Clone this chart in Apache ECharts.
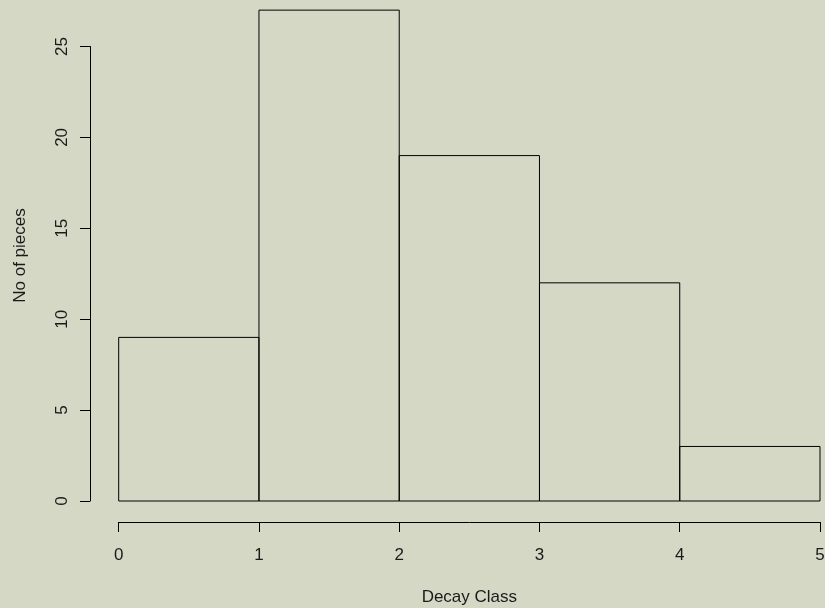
<!DOCTYPE html>
<html>
<head>
<meta charset="utf-8">
<script src="https://cdn.jsdelivr.net/npm/echarts@6/dist/echarts.min.js"></script>
<style>
html,body{margin:0;padding:0;background:#d6d8c6;}
#c{width:825px;height:608px;}
</style>
</head>
<body>
<div id="c"></div>
<script>
var breaks = [0, 1, 2, 3, 4, 5];
var counts = [9, 27, 19, 12, 3];
var yTicks = [0, 5, 10, 15, 20, 25];
var xTitle = 'Decay Class';
var yTitle = 'No of pieces';

var binData = counts.map(function (c, i) { return [breaks[i], breaks[i + 1], c]; });
var font = 'Liberation Sans, Arial, sans-serif';
var txt = '#1a1a1a';

var chart = echarts.init(document.getElementById('c'));
chart.setOption({
  backgroundColor: '#d6d8c6',
  animation: false,
  grid: { left: 118.7, right: 5, top: 46.5, bottom: 107, containLabel: false, outerBoundsMode: 'none' },
  xAxis: {
    type: 'value', min: breaks[0], max: breaks[breaks.length - 1], interval: 1,
    offset: 21,
    axisLine: { show: true, onZero: false, lineStyle: { color: '#000', width: 1 } },
    axisTick: { show: true, length: 10, lineStyle: { color: '#000' } },
    axisLabel: { margin: 25, fontFamily: font, fontSize: 17, color: txt },
    splitLine: { show: false },
    name: xTitle, nameLocation: 'middle', nameGap: 67,
    nameTextStyle: { fontFamily: font, fontSize: 17, color: txt }
  },
  yAxis: {
    type: 'value', min: yTicks[0], max: yTicks[yTicks.length - 1], interval: 5,
    offset: 28.7,
    axisLine: { show: true, onZero: false, lineStyle: { color: '#000', width: 1 } },
    axisTick: { show: true, length: 10, lineStyle: { color: '#000' } },
    axisLabel: { rotate: 90, margin: 19, fontFamily: font, fontSize: 17, color: txt },
    splitLine: { show: false }
  },
  graphic: [{
    type: 'text', x: 20, y: 255.5, rotation: Math.PI / 2,
    style: { text: yTitle, fontFamily: font, fontSize: 17, fill: txt, align: 'center', verticalAlign: 'middle' }
  }],
  series: [{
    type: 'custom',
    clip: false,
    data: binData,
    renderItem: function (params, api) {
      var p0 = api.coord([api.value(0), api.value(2)]);
      var p1 = api.coord([api.value(1), 0]);
      return {
        type: 'rect',
        shape: { x: p0[0], y: p0[1], width: p1[0] - p0[0], height: p1[1] - p0[1] },
        style: { fill: 'none', stroke: '#000', lineWidth: 1 }
      };
    }
  }]
});
</script>
</body>
</html>
